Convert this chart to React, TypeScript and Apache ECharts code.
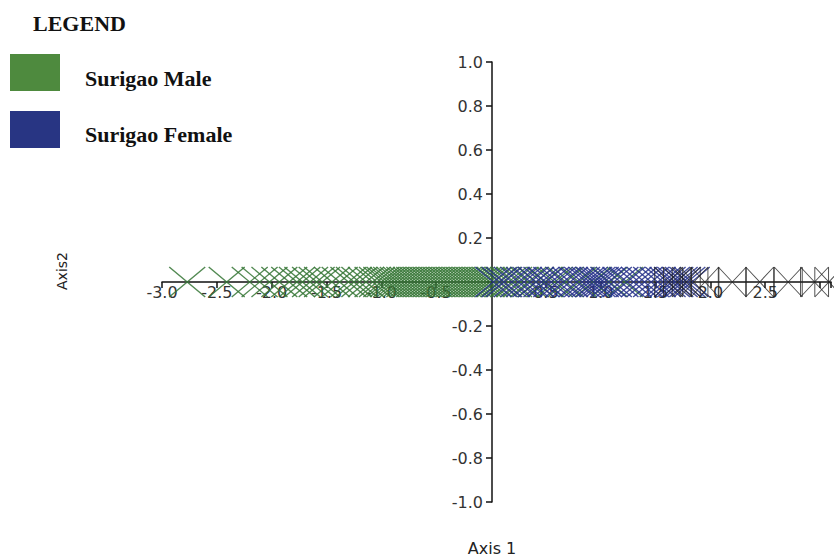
import React, { useEffect, useRef } from "react";
import * as echarts from "echarts";

// Axis 1 scores (all points lie on Axis 2 = 0)
const maleScores = [
  -2.77, -2.41, -2.2, -2.11, -2.02, -1.93, -1.84, -1.77, -1.72, -1.65, -1.59, -1.54,
  -1.45, -1.38, -1.3, -1.25, -1.2, -1.14, -1.08, -1.04, -1.0, -0.97, -0.94, -0.91,
  -0.88, -0.85, -0.82, -0.79, -0.76, -0.73, -0.7, -0.67, -0.64, -0.61, -0.58, -0.55,
  -0.52, -0.49, -0.46, -0.43, -0.4, -0.37, -0.34, -0.31, -0.28, -0.25, -0.22, -0.19,
  -0.16, -0.13, -0.1, -0.07, -0.04, -0.01, 0.03, 0.07, 0.11, 0.16, 0.21, 0.27, 0.34,
  0.41, 0.49, 0.58, 0.68, 0.8, 0.93, 1.08, 1.22,
];
const femaleScores = [
  0.02, 0.08, 0.12, 0.19, 0.25, 0.3, 0.36, 0.41, 0.46, 0.5, 0.55, 0.61, 0.66, 0.72,
  0.78, 0.83, 0.87, 0.9, 0.94, 0.97, 1.0, 1.03, 1.07, 1.12, 1.18, 1.24, 1.3, 1.35,
  1.4, 1.46, 1.52, 1.57, 1.61, 1.65, 1.68, 1.72, 1.75, 1.79, 1.83,
];
const otherScores = [1.62, 1.7, 1.78, 1.85, 1.95, 2.2, 2.45, 2.71, 2.95, 3.08];

const legendNames = ["Surigao Male", "Surigao Female"];
const legendColors = ["#4e8a3e", "#283583"];
const xAxisTitle = "Axis 1";
const yAxisTitle = "Axis2";

const X_SYMBOL = "path://M0 0L10 10M10 0L0 10";
const BOWTIE_SYMBOL = "path://M0 0L10 10M10 0L0 10M0 0L0 10M10 0L10 10";

const fmt = (v: number) => (Math.abs(v) < 1e-9 ? "" : v.toFixed(1));

export default function App() {
  const ref = useRef<HTMLDivElement>(null);
  useEffect(() => {
    if (!ref.current) return;
    const chart = echarts.init(ref.current, null, { renderer: "svg" });
    const labelStyle = { color: "#333", fontFamily: "DejaVu Sans", fontSize: 16 };
    chart.setOption({
      animation: false,
      grid: { left: 162, right: 1, top: 62, bottom: 56, containLabel: false },
      xAxis: {
        type: "value",
        min: -3,
        max: 3.1,
        interval: 0.5,
        offset: -220,
        axisLine: { onZero: false, lineStyle: { color: "#111", width: 1.5 } },
        axisTick: { length: 6, lineStyle: { color: "#111", width: 1.5 } },
        splitLine: { show: false },
        axisLabel: {
          ...labelStyle,
          margin: 2,
          formatter: (v: number) => (v > 2.6 ? "" : fmt(v)),
        },
      },
      yAxis: {
        type: "value",
        min: -1,
        max: 1,
        interval: 0.2,
        offset: -330,
        axisLine: { onZero: false, lineStyle: { color: "#111", width: 1.5 } },
        axisTick: { length: 6, lineStyle: { color: "#111", width: 1.5 } },
        splitLine: { show: false },
        axisLabel: { ...labelStyle, margin: 9, formatter: fmt },
      },
      series: [
        {
          name: legendNames[0],
          type: "scatter",
          symbol: X_SYMBOL,
          symbolSize: [36, 30],
          itemStyle: { color: "#357535", borderColor: "#357535", borderWidth: 1.2, opacity: 0.85 },
          data: maleScores.map((x) => [x, 0]),
        },
        {
          name: legendNames[1],
          type: "scatter",
          symbol: X_SYMBOL,
          symbolSize: [36, 30],
          itemStyle: { color: "#26318a", borderColor: "#26318a", borderWidth: 1.2, opacity: 0.85 },
          data: femaleScores.map((x) => [x, 0]),
        },
        {
          name: "Other",
          type: "scatter",
          symbol: BOWTIE_SYMBOL,
          symbolSize: [28, 30],
          itemStyle: { color: "#222", borderColor: "#222", borderWidth: 1 },
          data: otherScores.map((x) => [x, 0]),
        },
      ],
      graphic: [
        {
          type: "text",
          left: 33,
          top: 12,
          style: { text: "LEGEND", font: "bold 22px 'Liberation Serif'", fill: "#111" },
        },
        {
          type: "rect",
          shape: { x: 10, y: 54, width: 50, height: 37 },
          style: { fill: legendColors[0] },
        },
        {
          type: "rect",
          shape: { x: 10, y: 111, width: 50, height: 37 },
          style: { fill: legendColors[1] },
        },
        {
          type: "text",
          x: 85,
          y: 78,
          style: {
            text: legendNames[0],
            font: "bold 22px 'Liberation Serif'",
            fill: "#111",
            verticalAlign: "middle",
          },
        },
        {
          type: "text",
          x: 85,
          y: 134,
          style: {
            text: legendNames[1],
            font: "bold 22px 'Liberation Serif'",
            fill: "#111",
            verticalAlign: "middle",
          },
        },
        {
          type: "text",
          x: 492,
          y: 548,
          style: {
            text: xAxisTitle,
            font: "16px 'DejaVu Sans'",
            fill: "#222",
            align: "center",
            verticalAlign: "middle",
          },
        },
        {
          type: "text",
          x: 62,
          y: 271,
          rotation: Math.PI / 2,
          style: {
            text: yAxisTitle,
            font: "14px 'DejaVu Sans'",
            fill: "#222",
            align: "center",
            verticalAlign: "middle",
          },
        },
      ],
    });
    return () => chart.dispose();
  }, []);
  return (
    <div
      ref={ref}
      style={{ position: "absolute", left: 0, top: 0, width: 834, height: 558 }}
    />
  );
}
